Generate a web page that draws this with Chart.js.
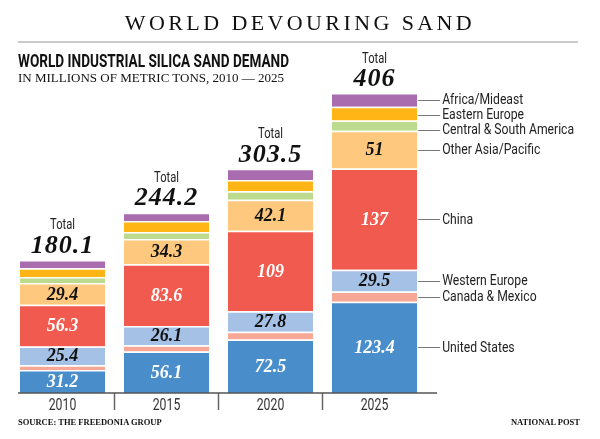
<!DOCTYPE html>
<html>
<head>
<meta charset="utf-8">
<script src="https://cdn.jsdelivr.net/npm/chart.js@4.4.0/dist/chart.umd.min.js"></script>
<style>
    body { margin: 0; background: #fff; }
    #wrap { position: relative; width: 600px; height: 439px; overflow: hidden; }
    #chart { position: absolute; left: 0; top: 0; }
    .txt { position: absolute; white-space: nowrap; color: #111; transform-origin: left top; }
    #title { left: 0; width: 600px; top: 10px; text-align: center; font: 22px "Liberation Serif", serif; letter-spacing: 3.4px; }
    #rule { position: absolute; left: 18px; top: 41px; width: 560px; height: 2px; background: #cacaca; }
    #head { left: 18px; top: 50px; font: bold 18px Roboto, sans-serif; }
    #sub { left: 18px; top: 70px; font: 13px "Liberation Serif", serif; }
    #source { left: 18px; top: 417px; font: bold 8.5px "Liberation Serif", serif; }
    #credit { right: 20px; top: 417px; font: bold 8.5px "Liberation Serif", serif; }
</style>
</head>
<body>
<div id="wrap">
    <canvas id="chart" width="600" height="439"></canvas>
    <div class="txt" id="title">WORLD DEVOURING SAND</div>
    <div id="rule"></div>
    <div class="txt" id="head">WORLD INDUSTRIAL SILICA SAND DEMAND</div>
    <div class="txt" id="sub">IN MILLIONS OF METRIC TONS, 2010 — 2025</div>
    <div class="txt" id="source">SOURCE: THE FREEDONIA GROUP</div>
    <div class="txt" id="credit">NATIONAL POST</div>
</div>
<script>
const years = ['2010', '2015', '2020', '2025'];
const unitedStates = [31.2, 56.1, 72.5, 123.4];
const canadaMexico = [6.5, 8.5, 10.4, 14];
const westernEurope = [25.4, 26.1, 27.8, 29.5];
const china = [56.3, 83.6, 109, 137];
const otherAsia = [29.4, 34.3, 42.1, 51];
const centralSouthAmerica = [8.3, 9.3, 11.4, 14];
const easternEurope = [11.7, 14.8, 15.3, 18.5];
const africaMideast = [11.3, 11.5, 15.0, 18.6];
const totals = ['180.1', '244.2', '303.5', '406'];

const sans = 'Roboto, "Liberation Sans", sans-serif';
const serif = '"Liberation Serif", serif';

// squeeze the header line into the width of the original condensed face
function fitWidth(id, w) {
    const el = document.getElementById(id);
    el.style.transform = 'scaleX(' + (w / el.getBoundingClientRect().width) + ')';
}
fitWidth('head', 271);

// label: legend text, show: draw value inside segment, ink: value colour
const series = [
    { label: 'United States', data: unitedStates, color: '#4a8dcb', show: true, ink: '#fff' },
    { label: 'Canada & Mexico', data: canadaMexico, color: '#f7a796', show: false },
    { label: 'Western Europe', data: westernEurope, color: '#a6c1e6', show: true, ink: '#111' },
    { label: 'China', data: china, color: '#f15a4f', show: true, ink: '#fff' },
    { label: 'Other Asia/Pacific', data: otherAsia, color: '#fec97f', show: true, ink: '#111' },
    { label: 'Central & South America', data: centralSouthAmerica, color: '#bcdb8f', show: false },
    { label: 'Eastern Europe', data: easternEurope, color: '#feb515', show: false },
    { label: 'Africa/Mideast', data: africaMideast, color: '#a96daf', show: false }
];

// condensed text: draw with a horizontal squeeze
function narrowText(ctx, text, x, y, align, sx) {
    ctx.save();
    ctx.translate(x, y);
    ctx.scale(sx, 1);
    ctx.textAlign = align;
    ctx.fillText(text, 0, 0);
    ctx.restore();
}

const barLabels = {
    id: 'barLabels',
    afterDatasetsDraw(chart) {
        const ctx = chart.ctx;
        ctx.save();
        ctx.textAlign = 'center';
        ctx.textBaseline = 'middle';

        // values inside segments
        series.forEach((s, di) => {
            if (!s.show) return;
            const meta = chart.getDatasetMeta(di);
            meta.data.forEach((bar, i) => {
                ctx.fillStyle = s.ink;
                ctx.font = 'italic bold 18px ' + serif;
                ctx.fillText(String(s.data[i]), bar.x, (bar.y + bar.base) / 2 + 1);
            });
        });

        // totals above the stacks
        const topMeta = chart.getDatasetMeta(series.length - 1);
        topMeta.data.forEach((bar, i) => {
            ctx.fillStyle = '#222';
            ctx.font = '14px ' + sans;
            narrowText(ctx, 'Total', bar.x, bar.y - 34, 'center', 0.8);
            ctx.fillStyle = '#111';
            ctx.font = 'italic bold 26px ' + serif;
            ctx.letterSpacing = '1px';
            ctx.fillText(totals[i], bar.x, bar.y - 14);
            ctx.letterSpacing = '0px';
        });

        // year labels under the axis
        const xs = chart.scales.x;
        ctx.fillStyle = '#333';
        ctx.font = '17px ' + sans;
        xs.ticks.forEach((t, i) => {
            narrowText(ctx, years[i], xs.getPixelForTick(i), chart.chartArea.bottom + 13, 'center', 0.72);
        });

        // side legend tied to the 2025 stack
        const last = years.length - 1;
        let prevY = -100;
        const rows = [];
        for (let di = series.length - 1; di >= 0; di--) {
            const bar = chart.getDatasetMeta(di).data[last];
            let y = (bar.y + bar.base) / 2;
            if (y < prevY + 15) y = prevY + 15;
            prevY = y;
            rows.push({ y, text: series[di].label, x: bar.x + bar.width / 2 });
        }
        ctx.font = '14px ' + sans;
        rows.forEach(r => {
            ctx.strokeStyle = '#777';
            ctx.lineWidth = 1;
            ctx.beginPath();
            ctx.moveTo(r.x + 1, Math.round(r.y) + 0.5);
            ctx.lineTo(r.x + 23, Math.round(r.y) + 0.5);
            ctx.stroke();
            ctx.fillStyle = '#222';
            narrowText(ctx, r.text, r.x + 25, r.y + 1, 'left', 0.87);
        });

        // baseline
        const area = chart.chartArea;
        ctx.strokeStyle = '#555';
        ctx.lineWidth = 1.5;
        ctx.beginPath();
        ctx.moveTo(18, area.bottom);
        ctx.lineTo(437, area.bottom);
        ctx.stroke();
        ctx.restore();
    }
};

new Chart(document.getElementById('chart'), {
    type: 'bar',
    data: {
        labels: years,
        datasets: series.map(s => ({
            label: s.label,
            data: s.data,
            backgroundColor: s.color,
            borderColor: 'rgba(255,255,255,0.85)',
            borderWidth: { top: 1.5, bottom: 0, left: 0, right: 0 },
            borderSkipped: false,
            barPercentage: 0.82,
            categoryPercentage: 1
        }))
    },
    options: {
        responsive: false,
        animation: false,
        layout: { padding: { left: 10.5, right: 173.5, top: 68, bottom: 0 } },
        plugins: { legend: { display: false }, tooltip: { enabled: false } },
        scales: {
            x: {
                stacked: true,
                afterFit: s => { s.height = 46; },
                border: { display: false },
                grid: {
                    offset: true,
                    drawOnChartArea: false,
                    tickLength: 17,
                    tickColor: c => (c.index > 0 ? '#666' : 'transparent'),
                    tickWidth: 1.5
                },
                ticks: { display: false }
            },
            y: { stacked: true, display: false, min: 0, max: 440 }
        }
    },
    plugins: [barLabels]
});
</script>
</body>
</html>
